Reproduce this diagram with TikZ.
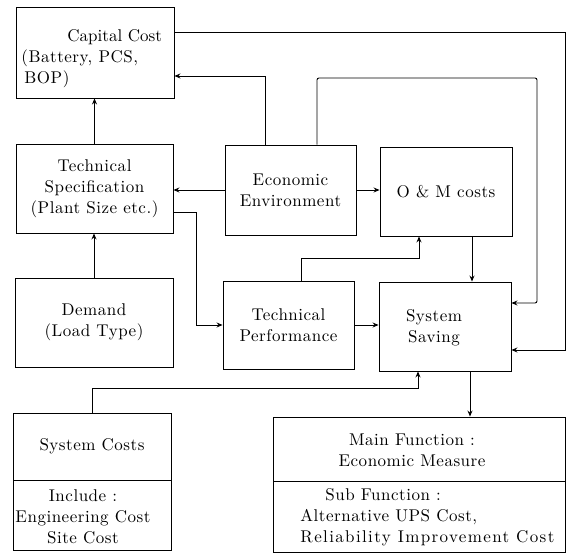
\documentclass[tikz,border=0pt]{standalone}
\usepackage{fontspec}
\setmainfont{lmroman10-regular.otf}[LetterSpace=3]
\usetikzlibrary{arrows.meta}
\begin{document}
\begin{tikzpicture}[x=1pt,y=-1pt,line width=0.9pt,
  box/.style={draw,rectangle,inner sep=0pt,align=center,font=\fontsize{17}{21}\selectfont},
  txt/.style={inner sep=0pt,font=\fontsize{17}{21}\selectfont},
  arr/.style={-{Stealth[length=6pt,width=5pt]}}]
\useasboundingbox (0,0) rectangle (571,553);
% boxes
\node[box,minimum width=158pt,minimum height=91pt] (cap) at (95,52.5) {};
\node[txt,align=left,anchor=west] (captxt) at (21,59) {\addfontfeatures{LetterSpace=0}\hspace{46pt}Capital Cost\\(Battery, PCS,\\\hspace{3pt}BOP)};
\node[box,minimum width=157pt,minimum height=89pt] (spec) at (94.5,188.5) {Technical\\Specification\\(Plant Size etc.)};
\node[box,minimum width=158pt,minimum height=89pt] (dem) at (94,322.5) {Demand\\(Load Type)};
\node[box,minimum width=131pt,minimum height=90pt] (eco) at (290.5,190) {Economic\\Environment};
\node[box,minimum width=132pt,minimum height=89pt] (om) at (446,191.5) {O \& M costs};
\node[box,minimum width=131pt,minimum height=88pt] (perf) at (288.5,325) {Technical\\Performance};
\node[box,minimum width=132pt,minimum height=89pt] (sav) at (445,326.5) {};
\node[txt,align=center] (savtxt) at (434,328) {System\\Saving};
\node[box,minimum width=158pt,minimum height=67pt] (sc) at (92,446.5) {System Costs};
\node[box,minimum width=158pt,minimum height=70pt] (scinc) at (92,515) {};
\node[txt,align=center] (scinctxt) at (83,517) {Include :\\Engineering Cost\\Site Cost};
\node[box,minimum width=292pt,minimum height=64pt] (mf) at (419,449) {};
\node[txt,align=center] (mftxt) at (412,450) {Main Function :\\Economic Measure};
\node[box,minimum width=292pt,minimum height=71pt] (mfsub) at (419,516.5) {};
\node[txt,align=left,anchor=west] (mfsubtxt) at (300,517) {\hspace{25pt}Sub Function :\\Alternative UPS Cost,\\{\addfontfeatures{LetterSpace=8}Reliability Improvement Cost}};
% bend points
\coordinate (r1) at (565,32);
\coordinate (r2) at (565,350);
\coordinate (e1) at (265,76);
\coordinate (e2) at (317,78);
\coordinate (e3) at (537,78);
\coordinate (e4) at (537,303);
\coordinate (t1) at (196,212);
\coordinate (p1) at (301,258);
\coordinate (p2) at (419,258);
\coordinate (o1) at (472,0);
\coordinate (s1) at (92,388);
\coordinate (s2) at (418,388);
\coordinate (s3) at (470,0);
% connectors
\draw[arr] (cap.east |- r1) -- (r1) -- (r2) -- (sav.east |- r2);
\draw[arr] (eco.north -| e1) -- (e1) -- (cap.east |- e1);
\draw[arr,rounded corners=2pt] (eco.north -| e2) -- (e2) -- (e3) -- (e4) -- (sav.east |- e4);
\draw[arr] (eco.west) -- (spec.east |- eco.west);
\draw[arr] (eco.east) -- (om.west |- eco.east);
\draw[arr] (spec.north) -- (spec.north |- cap.south);
\draw[arr] (dem.north) -- (dem.north |- spec.south);
\draw[arr] (spec.east |- t1) -- (t1) |- (perf.west);
\draw[arr] (perf.north -| p1) -- (p1) -- (p2) -- (om.south -| p2);
\draw[arr] (om.south -| o1) -- (sav.north -| o1);
\draw[arr] (perf.east) -- (sav.west |- perf.east);
\draw[arr] (sc.north -| s1) -- (s1) -- (s2) -- (sav.south -| s2);
\draw[arr] (sav.south -| s3) -- (mf.north -| s3);
\end{tikzpicture}
\end{document}
